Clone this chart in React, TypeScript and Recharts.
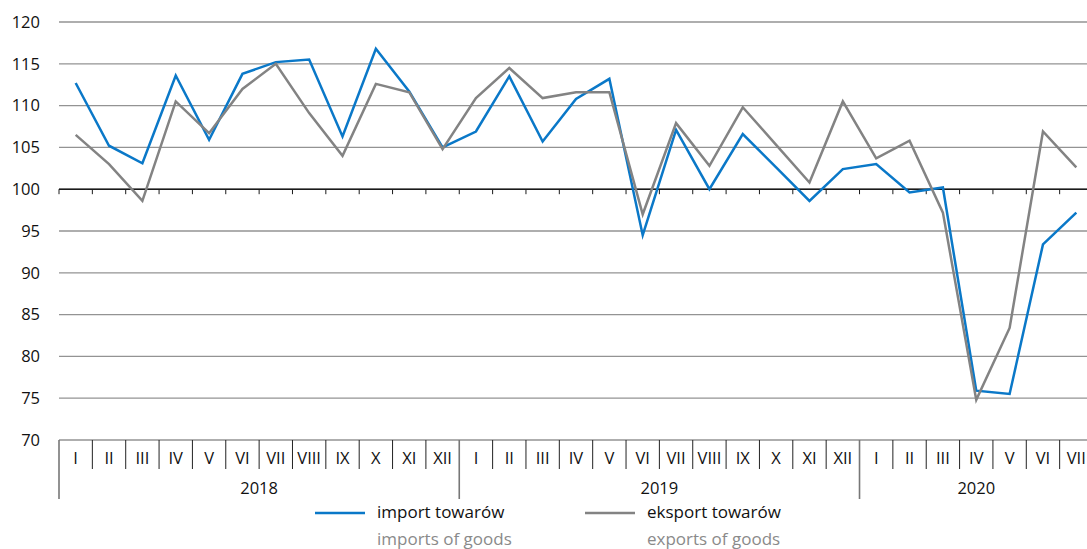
import React from "react";
import { LineChart, Line, XAxis, YAxis, CartesianGrid, ReferenceLine } from "recharts";

const years = ["2018", "2019", "2020"];
const monthsPerYear = [12, 12, 7];
const monthLabels = ["I", "II", "III", "IV", "V", "VI", "VII", "VIII", "IX", "X", "XI", "XII"];
const yTicks = [70, 75, 80, 85, 90, 95, 100, 105, 110, 115, 120];

const imports = [
  112.7, 105.2, 103.1, 113.6, 105.9, 113.8, 115.2, 115.5, 106.3, 116.8, 111.7, 105.0,
  106.9, 113.5, 105.7, 110.8, 113.2, 94.5, 107.1, 100.0, 106.6, 102.6, 98.6, 102.4,
  103.0, 99.6, 100.2, 75.9, 75.5, 93.4, 97.2,
];
const exportsArr = [
  106.5, 103.0, 98.6, 110.5, 106.7, 112.0, 115.0, 109.1, 104.0, 112.6, 111.6, 104.8,
  110.9, 114.5, 110.9, 111.6, 111.6, 97.0, 107.9, 102.8, 109.8, 105.3, 100.8, 110.5,
  103.7, 105.8, 97.2, 74.8, 83.4, 106.9, 102.6,
];

type Cat = { key: string; month: string; yearIdx: number; local: number };
const cats: Cat[] = years.flatMap((y, yi) =>
  monthLabels.slice(0, monthsPerYear[yi]).map((m, li) => ({ key: `${m}-${y}`, month: m, yearIdx: yi, local: li }))
);
const data = cats.map((c, i) => ({ cat: c.key, imp: imports[i], exp: exportsArr[i] }));

const W = 1093;
const H = 549;
const Y_AXIS_W = 59;
const X_AXIS_H = 109;
const TOP = 22;
const PLOT_W = W - Y_AXIS_W;
const N = cats.length;
const STEP = PLOT_W / N;
const HALF = STEP / 2;
const PLOT_BOTTOM = H - X_AXIS_H;

const FONT = "'Open Sans', sans-serif";
const BLUE = "#0a78c8";
const GRAY = "#838383";
const AXIS_FS = 16.5;

const XTick = (props: any) => {
  const { x, index } = props;
  const c = cats[index];
  if (!c) return null;
  const isJan = c.local === 0;
  const count = monthsPerYear[c.yearIdx];
  const mid = (count - 1) / 2;
  const showYear = c.local === Math.floor(mid);
  const sepX = x - HALF;
  return (
    <g>
      <line
        x1={sepX}
        x2={sepX}
        y1={PLOT_BOTTOM}
        y2={isJan ? PLOT_BOTTOM + 59 : PLOT_BOTTOM + 29}
        stroke={isJan ? "#777" : "#222"}
        strokeWidth={isJan ? 1.6 : 1}
      />
      <text
        x={x}
        y={PLOT_BOTTOM + 17}
        textAnchor="middle"
        dominantBaseline="central"
        fontSize={AXIS_FS}
        fontFamily={FONT}
        fill="#111"
      >
        {c.month}
      </text>
      {showYear && (
        <text
          x={x + (mid - Math.floor(mid)) * STEP}
          y={PLOT_BOTTOM + 47}
          textAnchor="middle"
          dominantBaseline="central"
          fontSize={AXIS_FS}
          fontFamily={FONT}
          fill="#111"
        >
          {years[c.yearIdx]}
        </text>
      )}
    </g>
  );
};

const ZeroLine = (props: any) => {
  const { x1, x2, y1 } = props;
  const ticks = [];
  for (let k = 0; k <= N; k++) {
    const tx = x1 + ((x2 - x1) * k) / N;
    ticks.push(<line key={k} x1={tx} x2={tx} y1={y1} y2={y1 + 5} stroke="#1a1a1a" strokeWidth={1} />);
  }
  return (
    <g>
      <line x1={x1} x2={x2} y1={y1} y2={y1} stroke="#1a1a1a" strokeWidth={1.5} />
      {ticks}
    </g>
  );
};

const legendText: React.CSSProperties = {
  position: "absolute",
  fontFamily: FONT,
  fontSize: 17,
  lineHeight: "20px",
  whiteSpace: "nowrap",
};

export default function App() {
  return (
    <div
      style={{
        position: "fixed",
        left: 0,
        top: 0,
        width: 1087,
        height: 549,
        overflow: "hidden",
        background: "#fff",
      }}
    >
      <LineChart width={W} height={H} data={data} margin={{ top: TOP, right: 0, bottom: 0, left: 0 }}>
        <CartesianGrid horizontal vertical={false} stroke="#939393" strokeWidth={1.3} />
        <XAxis
          dataKey="cat"
          type="category"
          height={X_AXIS_H}
          padding={{ left: HALF, right: HALF }}
          axisLine={false}
          tickLine={false}
          interval={0}
          tick={<XTick />}
        />
        <YAxis
          domain={[70, 120]}
          ticks={yTicks}
          width={Y_AXIS_W}
          axisLine={false}
          tickLine={false}
          tickSize={0}
          tickMargin={19}
          interval={0}
          tick={{ fontSize: AXIS_FS, fontFamily: FONT, fill: "#111" }}
        />
        <ReferenceLine y={100} shape={<ZeroLine />} />
        <Line type="linear" dataKey="imp" stroke={BLUE} strokeWidth={2.5} dot={false} isAnimationActive={false} />
        <Line type="linear" dataKey="exp" stroke={GRAY} strokeWidth={2.5} dot={false} isAnimationActive={false} />
      </LineChart>
      <svg style={{ position: "absolute", left: 0, top: 0 }} width={1087} height={549} pointerEvents="none">
        <line x1={315} x2={365} y1={513} y2={513} stroke={BLUE} strokeWidth={2.5} />
        <line x1={585} x2={635} y1={513} y2={513} stroke={GRAY} strokeWidth={2.5} />
      </svg>
      <div style={{ ...legendText, left: 377, top: 502, color: "#111" }}>import towarów</div>
      <div style={{ ...legendText, left: 377, top: 529, color: "#8a8a8a" }}>imports of goods</div>
      <div style={{ ...legendText, left: 647, top: 502, color: "#111" }}>eksport towarów</div>
      <div style={{ ...legendText, left: 647, top: 529, color: "#8a8a8a" }}>exports of goods</div>
    </div>
  );
}
